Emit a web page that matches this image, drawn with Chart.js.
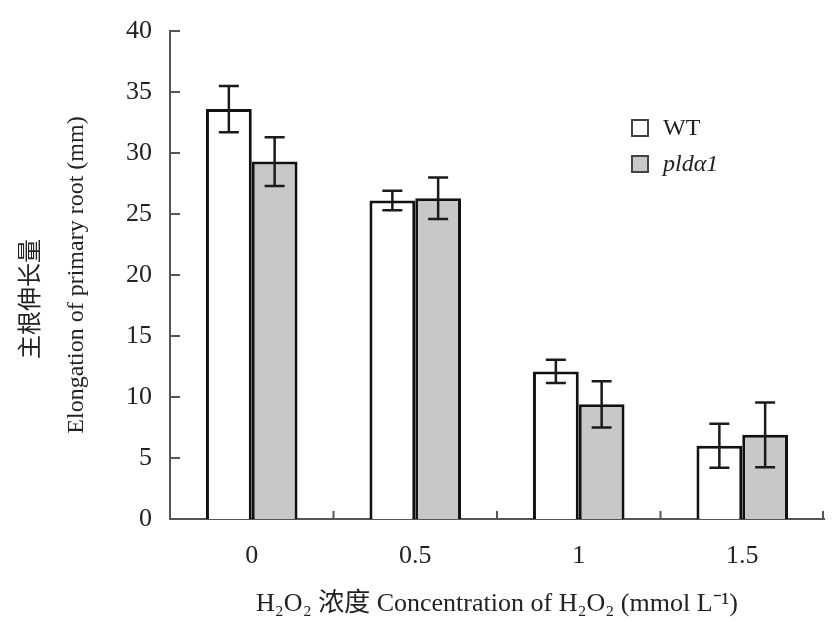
<!DOCTYPE html>
<html>
<head>
<meta charset="utf-8">
<script src="https://cdn.jsdelivr.net/npm/chart.js@4/dist/chart.umd.min.js"></script>
<style>
  body { margin: 0; background: #fff; }
  #wrap { width: 838px; height: 622px; }
</style>
</head>
<body>
<div id="wrap"><canvas id="rootChart" width="838" height="622"></canvas></div>
<script>
// data
const concentrations = ["0", "0.5", "1", "1.5"];
const wtValues = [33.6, 26.1, 12.1, 6.0];
const wtErrors = [1.9, 0.8, 0.95, 1.8];
const pldValues = [29.3, 26.3, 9.4, 6.9];
const pldErrors = [2.0, 1.7, 1.9, 2.65];
const yTicks = [0, 5, 10, 15, 20, 25, 30, 35, 40];

const serif = "'Liberation Serif', 'Times New Roman', 'Noto Sans CJK SC', serif";
const axisGray = "#555";

// error bars drawn from the dataset values through the y scale
const errorBars = {
  id: "errorBars",
  afterDatasetsDraw(chart) {
    const ctx = chart.ctx;
    const yScale = chart.scales.y;
    ctx.save();
    ctx.strokeStyle = "#1a1a1a";
    ctx.lineWidth = 2.5;
    chart.data.datasets.forEach((ds, i) => {
      const meta = chart.getDatasetMeta(i);
      meta.data.forEach((bar, j) => {
        const v = ds.data[j];
        const e = ds.errors[j];
        const top = yScale.getPixelForValue(v + e);
        const bottom = yScale.getPixelForValue(v - e);
        ctx.beginPath();
        ctx.moveTo(bar.x, top);
        ctx.lineTo(bar.x, bottom);
        ctx.moveTo(bar.x - 10, top);
        ctx.lineTo(bar.x + 10, top);
        ctx.moveTo(bar.x - 10, bottom);
        ctx.lineTo(bar.x + 10, bottom);
        ctx.stroke();
      });
    });
    ctx.restore();
  }
};

// inward tick marks + legend
const extras = {
  id: "extras",
  afterDraw(chart) {
    const ctx = chart.ctx;
    const x = chart.scales.x;
    const y = chart.scales.y;
    ctx.save();
    ctx.strokeStyle = axisGray;
    ctx.lineWidth = 2;
    ctx.beginPath();
    yTicks.forEach(t => {
      const py = y.getPixelForValue(t);
      ctx.moveTo(y.right, py);
      ctx.lineTo(y.right + 10, py);
    });
    for (let i = 0; i < concentrations.length; i++) {
      const px = i < concentrations.length - 1
        ? (x.getPixelForValue(i) + x.getPixelForValue(i + 1)) / 2
        : x.right - 1;
      ctx.moveTo(px, x.top);
      ctx.lineTo(px, x.top - 8);
    }
    ctx.stroke();

    // legend
    const items = [
      { label: "WT", fill: "#ffffff", italic: false, y: 128 },
      { label: "pldα1", fill: "#c8c8c8", italic: true, y: 164 }
    ];
    items.forEach(it => {
      ctx.fillStyle = it.fill;
      ctx.fillRect(632, it.y - 8, 16, 16);
      ctx.strokeStyle = "#444";
      ctx.lineWidth = 2;
      ctx.strokeRect(632, it.y - 8, 16, 16);
      ctx.fillStyle = "#222";
      ctx.font = (it.italic ? "italic " : "") + "24px " + serif;
      ctx.textBaseline = "middle";
      ctx.textAlign = "left";
      ctx.fillText(it.label, 663, it.y + 1);
    });
    ctx.restore();
  }
};

const ctx = document.getElementById("rootChart").getContext("2d");
const rootChart = new Chart(ctx, {
  type: "bar",
  data: {
    labels: concentrations,
    datasets: [
      {
        label: "WT",
        data: wtValues,
        errors: wtErrors,
        backgroundColor: "#ffffff",
        borderColor: "#111",
        borderWidth: 3
      },
      {
        label: "pldα1",
        data: pldValues,
        errors: pldErrors,
        backgroundColor: "#c8c8c8",
        borderColor: "#111",
        borderWidth: 3
      }
    ]
  },
  options: {
    responsive: false,
    animation: false,
    barPercentage: 1.0,
    categoryPercentage: 0.56,
    layout: { padding: { top: 29, right: 14, left: 0, bottom: 0 } },
    plugins: {
      legend: { display: false },
      tooltip: { enabled: false }
    },
    scales: {
      x: {
        grid: { display: false, drawTicks: false },
        border: { color: axisGray, width: 2 },
        ticks: { color: "#222", padding: 22, font: { family: serif, size: 26 } },
        title: {
          display: true,
          text: "H₂O₂ 浓度 Concentration of H₂O₂ (mmol L⁻¹)",
          color: "#222",
          font: { family: serif, size: 26 },
          padding: { top: 0, bottom: 2 }
        },
        afterFit(scale) { scale.height = 103; }
      },
      y: {
        min: 0,
        max: 40,
        grid: { display: false, drawTicks: false },
        border: { color: axisGray, width: 2 },
        ticks: { stepSize: 5, color: "#222", padding: 18, font: { family: serif, size: 26, lineHeight: 1 } },
        title: {
          display: true,
          text: ["主根伸长量\u3000\u3000", "Elongation of primary root (mm)"],
          color: "#222",
          font: { family: serif, size: 24, lineHeight: 1.85 },
          padding: { top: 10, bottom: 0 }
        },
        afterFit(scale) { scale.width = 170; }
      }
    }
  },
  plugins: [errorBars, extras]
});
</script>
</body>
</html>
